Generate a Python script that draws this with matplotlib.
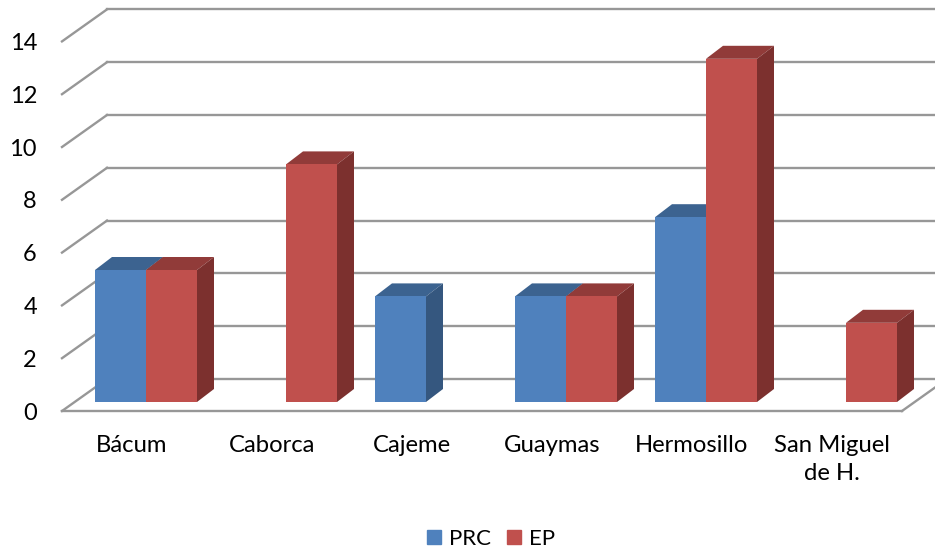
import matplotlib
matplotlib.use("Agg")
from matplotlib import pyplot as plt
from matplotlib.patches import Patch

categories = ["Bácum", "Caborca", "Cajeme", "Guaymas", "Hermosillo", "San Miguel\nde H."]
prc = [5, 0, 4, 4, 7, 0]
ep = [5, 9, 0, 4, 13, 3]
ticks = [0, 2, 4, 6, 8, 10, 12, 14]

W, H = 935, 550
step = 140.0   # px between categories
unit = 26.4    # px per value unit
x0 = 146.0     # px of first category
y0 = 402.0     # px of value 0 at the bars front

# pixel offsets turned into data units
def dx(px):
    return px / step

def dy(px):
    return px / unit

bar_w = dx(51)
depth_x = dx(17)
depth_y = dy(13)

grid_c = "#979797"
colors = {"PRC": ("#4f81bd", "#3c6390", "#35577f"),
          "EP": ("#c0504d", "#913b39", "#7c302e")}

plt.rcParams["font.family"] = ["Lato", "DejaVu Sans"]
fig = plt.figure(figsize=(W / 100, H / 100), dpi=100)
ax = fig.add_axes([0, 0, 1, 1])
ax.set_xlim(-x0 / step, (W - x0) / step)
ax.set_ylim(-(H - y0) / unit, y0 / unit)
ax.axis("off")

# walls and floor
left_x = dx(62 - x0)
back_x = dx(107 - x0)
right_x = dx(W - x0)
front_off = dy(-9)
back_off = dy(23)
for t in ticks:
    ax.plot([left_x, back_x], [t + front_off, t + back_off], color=grid_c, lw=1.7, zorder=1)
    ax.plot([back_x, right_x], [t + back_off, t + back_off], color=grid_c, lw=1.7, zorder=1)
    ax.text(dx(37 - x0), t + front_off - dy(2), str(t), ha="right", va="center", fontsize=17, color="black")
floor_r = dx(902 - x0)
ax.plot([left_x, floor_r], [front_off, front_off], color=grid_c, lw=1.7, zorder=1)
ax.plot([floor_r, floor_r + dx(45)], [front_off, back_off], color=grid_c, lw=1.7, zorder=1)


def draw_bar(x, v, name, z):
    front, top, side = colors[name]
    ax.bar(x, v, width=bar_w, align="edge", color=front, zorder=z + 2)
    ax.fill([x, x + depth_x, x + bar_w + depth_x, x + bar_w],
            [v, v + depth_y, v + depth_y, v], color=top, lw=0, zorder=z + 1)
    ax.fill([x + bar_w, x + bar_w + depth_x, x + bar_w + depth_x, x + bar_w],
            [0, depth_y, v + depth_y, v], color=side, lw=0, zorder=z + 1)


for i in range(len(categories)):
    if prc[i] > 0:
        draw_bar(i - bar_w, prc[i], "PRC", 2)
    if ep[i] > 0:
        draw_bar(i, ep[i], "EP", 4)
    ax.text(i + dx(-14), dy(-33), categories[i],
            ha="center", va="top", fontsize=17.2, color="black", linespacing=1.42)

handles = [Patch(color=colors["PRC"][0], label="PRC"), Patch(color=colors["EP"][0], label="EP")]
fig.legend(handles=handles, loc="center", bbox_to_anchor=(491 / W, 1 - 539 / H), ncol=2, frameon=False,
           fontsize=16, handlelength=0.63, handleheight=0.63, handletextpad=0.36, columnspacing=0.72)

fig.savefig("out.png", dpi=100)
